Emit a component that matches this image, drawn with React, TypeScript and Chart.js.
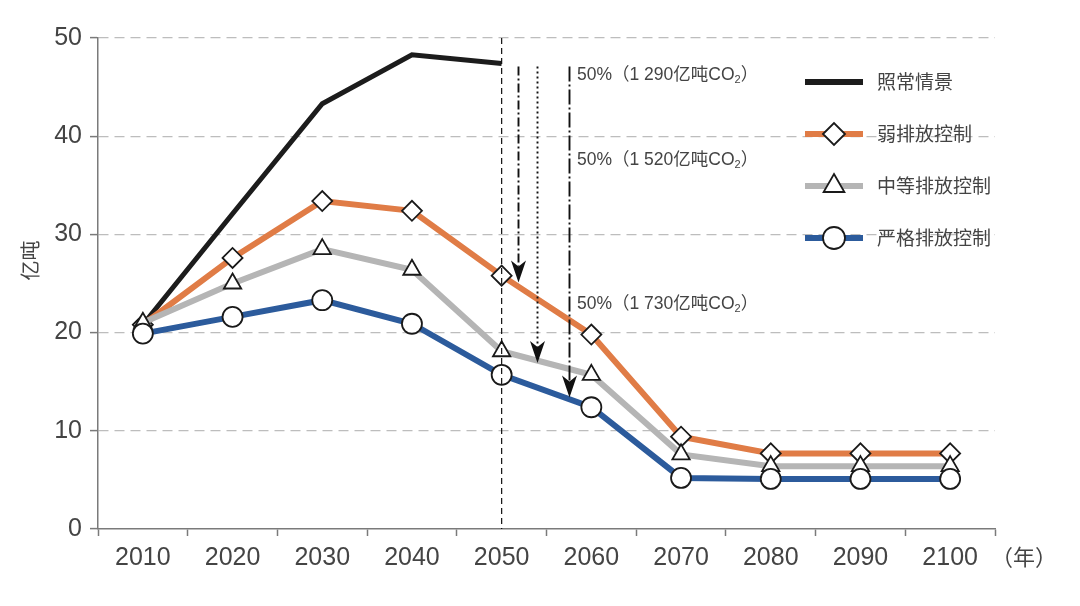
import React, { useEffect, useRef } from 'react';
import { Chart, registerables } from 'chart.js';

Chart.register(...registerables);

const years = ['2010', '2020', '2030', '2040', '2050', '2060', '2070', '2080', '2090', '2100'];
const seriesNames = ['照常情景', '弱排放控制', '中等排放控制', '严格排放控制'];
const bau = [20.8, 32.1, 43.3, 48.3, 47.4, null, null, null, null, null];
const weak = [20.8, 27.6, 33.4, 32.4, 25.8, 19.8, 9.4, 7.7, 7.7, 7.7];
const medium = [21.0, 25.0, 28.5, 26.4, 18.1, 15.7, 7.6, 6.4, 6.4, 6.4];
const strict = [19.9, 21.6, 23.3, 20.9, 15.7, 12.4, 5.2, 5.1, 5.1, 5.1];
const yTicks = [0, 10, 20, 30, 40, 50];

const seriesColors = ['#1c1c1c', '#e07c46', '#b5b5b5', '#2c5b9c'];
const seriesMarkers = ['none', 'rectRot', 'triangle', 'circle'];

// annotation arrows (category index, value units)
const refYearIndex = 4; // 2050
const arrowIdx = [4.18, 4.39, 4.75];
const arrowTop = 47.1;
const arrowTip = [25.1, 16.9, 13.4];
const arrowDash = [[9, 3, 2, 3], [2, 3], [15, 3, 2, 3]];
const noteAmounts = ['1 290', '1 520', '1 730'];
const noteValues = [46.2, 37.6, 22.9];
const noteIdx = 4.84;

const TXT = '#444444';
const NUM_FONT = '"Liberation Sans", Arial, sans-serif';
const CJK_FONT = '"Liberation Sans", "Noto Sans CJK SC", sans-serif';

function drawMarker(ctx: CanvasRenderingContext2D, style: string, x: number, y: number, r: number) {
  ctx.save();
  ctx.setLineDash([]);
  ctx.fillStyle = '#ffffff';
  ctx.strokeStyle = '#1a1a1a';
  ctx.lineWidth = 1.8;
  ctx.beginPath();
  if (style === 'circle') {
    ctx.arc(x, y, r, 0, Math.PI * 2);
  } else if (style === 'rectRot') {
    ctx.moveTo(x - r, y);
    ctx.lineTo(x, y - r);
    ctx.lineTo(x + r, y);
    ctx.lineTo(x, y + r);
    ctx.closePath();
  } else if (style === 'triangle') {
    let rad = 0;
    ctx.moveTo(x + Math.sin(rad) * r, y - Math.cos(rad) * r);
    rad += (2 * Math.PI) / 3;
    ctx.lineTo(x + Math.sin(rad) * r, y - Math.cos(rad) * r);
    rad += (2 * Math.PI) / 3;
    ctx.lineTo(x + Math.sin(rad) * r, y - Math.cos(rad) * r);
    ctx.closePath();
  }
  ctx.fill();
  ctx.stroke();
  ctx.restore();
}

const annotPlugin = {
  id: 'annot',
  afterDatasetsDraw(chart: any) {
    const { ctx, chartArea } = chart;
    const xs = chart.scales.x;
    const ys = chart.scales.y;
    ctx.save();

    // 2050 reference line
    const rx = xs.getPixelForValue(refYearIndex);
    ctx.strokeStyle = '#111';
    ctx.lineWidth = 1.2;
    ctx.setLineDash([6, 4]);
    ctx.beginPath();
    ctx.moveTo(rx, chartArea.top);
    ctx.lineTo(rx, chartArea.bottom);
    ctx.stroke();

    // arrows
    arrowIdx.forEach((idx, i) => {
      const ax = Math.round(xs.getPixelForValue(idx)) + 0.5;
      const y0 = ys.getPixelForValue(arrowTop);
      const y1 = ys.getPixelForValue(arrowTip[i]);
      const headLen = 22;
      const headW = 7.5;
      const notch = 6;
      ctx.setLineDash(arrowDash[i]);
      ctx.lineWidth = 1.9;
      ctx.strokeStyle = '#111';
      ctx.beginPath();
      ctx.moveTo(ax, y0);
      ctx.lineTo(ax, y1 - headLen + notch);
      ctx.stroke();
      ctx.setLineDash([]);
      ctx.fillStyle = '#111';
      ctx.beginPath();
      ctx.moveTo(ax, y1);
      ctx.lineTo(ax - headW, y1 - headLen);
      ctx.lineTo(ax, y1 - headLen + notch);
      ctx.lineTo(ax + headW, y1 - headLen);
      ctx.closePath();
      ctx.fill();
    });

    // notes
    ctx.setLineDash([]);
    ctx.fillStyle = TXT;
    ctx.textBaseline = 'middle';
    ctx.textAlign = 'left';
    noteAmounts.forEach((amt, i) => {
      let nx = xs.getPixelForValue(noteIdx);
      const ny = ys.getPixelForValue(noteValues[i]);
      ctx.font = '17.5px ' + CJK_FONT;
      const main = '50%（' + amt + '亿吨CO';
      ctx.fillText(main, nx, ny);
      nx += ctx.measureText(main).width;
      ctx.font = '11px ' + NUM_FONT;
      ctx.fillText('2', nx, ny + 5);
      nx += ctx.measureText('2').width;
      ctx.font = '17.5px ' + CJK_FONT;
      ctx.fillText('）', nx, ny);
    });

    // legend
    const lx = chartArea.right - 190;
    const datasets = chart.data.datasets;
    datasets.forEach((ds: any, i: number) => {
      const ly = chartArea.top + 44 + i * 52;
      ctx.strokeStyle = seriesColors[i];
      ctx.lineWidth = 6;
      ctx.lineCap = 'butt';
      ctx.beginPath();
      ctx.moveTo(lx, ly);
      ctx.lineTo(lx + 58, ly);
      ctx.stroke();
      if (seriesMarkers[i] !== 'none') drawMarker(ctx, seriesMarkers[i], lx + 29, ly, seriesMarkers[i] === 'triangle' ? 12 : 11);
      ctx.fillStyle = TXT;
      ctx.font = '19px "Noto Sans CJK SC", sans-serif';
      ctx.textAlign = 'left';
      ctx.textBaseline = 'middle';
      ctx.fillText(ds.label, lx + 72, ly);
    });

    // axis titles
    ctx.fillStyle = TXT;
    ctx.font = '22px "Noto Sans CJK SC", sans-serif';
    ctx.textAlign = 'left';
    ctx.textBaseline = 'middle';
    ctx.fillText('（年）', chartArea.right - 4, chartArea.bottom + 28);

    ctx.save();
    ctx.translate(30, (chartArea.top + chartArea.bottom) / 2 - 23);
    ctx.rotate(-Math.PI / 2);
    ctx.textAlign = 'center';
    ctx.font = '20px "Noto Sans CJK SC", sans-serif';
    ctx.fillText('亿吨', 0, 0);
    ctx.restore();

    ctx.restore();
  },
};

export default function App() {
  const ref = useRef<HTMLCanvasElement | null>(null);

  useEffect(() => {
    if (!ref.current) return;
    const seriesData = [bau, weak, medium, strict];
    const chart = new Chart(ref.current, {
      type: 'line',
      data: {
        labels: years,
        datasets: seriesData.map((d, i) => ({
          label: seriesNames[i],
          data: d,
          borderColor: seriesColors[i],
          backgroundColor: seriesColors[i],
          borderWidth: i === 0 ? 5 : 6,
          pointStyle: seriesMarkers[i] === 'none' ? false : (seriesMarkers[i] as any),
          pointRadius: i === 0 ? 0 : 10,
          pointBackgroundColor: '#ffffff',
          pointBorderColor: '#1a1a1a',
          pointBorderWidth: 1.8,
          tension: 0,
          fill: false,
          order: [3, 2, 1, 0][i],
        })),
      },
      options: {
        animation: false,
        responsive: false,
        devicePixelRatio: 1,
        layout: { padding: { top: 38, right: 85, left: 0, bottom: 0 } },
        plugins: {
          legend: { display: false },
          tooltip: { enabled: false },
        },
        scales: {
          x: {
            type: 'category',
            offset: true,
            grid: {
              offset: true,
              drawOnChartArea: false,
              drawTicks: true,
              tickLength: 7,
              tickColor: '#7a7a7a',
              tickWidth: 1.5,
            },
            border: { color: '#7a7a7a', width: 1.5 },
            ticks: {
              color: TXT,
              font: { family: NUM_FONT, size: 25 },
              padding: 7,
              maxRotation: 0,
              autoSkip: false,
            },
            afterFit: (s: any) => {
              s.height = 77;
            },
          },
          y: {
            min: 0,
            max: 50,
            afterBuildTicks: (s: any) => {
              s.ticks = yTicks.map((v) => ({ value: v }));
            },
            ticks: {
              color: TXT,
              font: { family: NUM_FONT, size: 25 },
              padding: 8,
            },
            grid: {
              color: (c: any) => (c.tick && c.tick.value === 0 ? 'rgba(0,0,0,0)' : '#bdbdbd'),
              lineWidth: 1.2,
              tickLength: 8,
              tickColor: '#7a7a7a',
              tickWidth: 1.5,
            },
            border: { color: '#7a7a7a', width: 1.5, dash: [10, 6] },
            afterFit: (s: any) => {
              s.width = 98;
            },
          },
        },
      },
      plugins: [annotPlugin],
    });
    return () => chart.destroy();
  }, []);

  return (
    <div style={{ position: 'absolute', left: 0, top: 0, width: 1080, height: 606, background: '#fff' }}>
      <canvas ref={ref} width={1080} height={606} />
    </div>
  );
}
